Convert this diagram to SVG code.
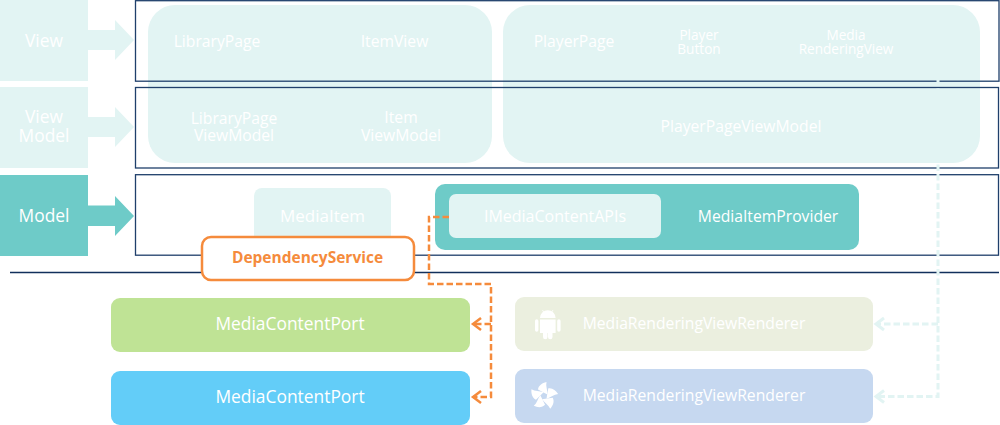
<svg xmlns="http://www.w3.org/2000/svg" xmlns:xlink="http://www.w3.org/1999/xlink" width="1000" height="425" viewBox="0 0 1000 425">
<style>
text{font-family:"Open Sans","Noto Sans","Liberation Sans",sans-serif;fill:#fff;text-anchor:middle}
.pale{fill:#e2f4f3}
.teal{fill:#6ecbc8}
.frame{fill:none;stroke:#1f3f6b;stroke-width:1.3}
.or{fill:none;stroke:#f58b3c;stroke-width:2.5}
.lt{fill:none;stroke:#e2f4f3;stroke-width:3}
.dash{stroke-dasharray:6.500 3}
.s17{font-size:17.400px}.s16{font-size:15.700px}.s13{font-size:13.600px}.s15{font-size:15.700px}
</style>
<defs>
<path id="blade" d="M0.500 -3L-6 -6.500C-5.500 -10.500 -2 -13 2.500 -14C1.500 -10 3.500 -6 3.500 -1.500Z" fill="#fff"/>
</defs>
<g id="layer-view"><rect class="pale" x="0" y="0" width="88" height="81"/><path class="pale" d="M88 30H115V20L134 40L115 60V50H88Z"/><text class="s17" x="44" y="46.500">View</text></g>
<g id="layer-viewmodel"><rect class="pale" x="0" y="87" width="88" height="81"/><path class="pale" d="M88 117H115V107L134 127L115 147V137H88Z"/><text class="s17" x="44" y="122.500">View</text><text class="s17" x="44" y="142">Model</text></g>
<g id="layer-model"><rect class="teal" x="0" y="175" width="88" height="81"/><path class="teal" d="M88 205.500H115V196L134 216L115 236V226H88Z"/><text class="s17" x="44" y="221.500">Model</text></g>
<g id="panel-library"><rect class="pale" x="148" y="5" width="344" height="158" rx="27"/>
<text class="s16" x="217" y="47">LibraryPage</text><text class="s16" x="394.500" y="47">ItemView</text>
<text class="s16" x="234" y="124">LibraryPage</text><text class="s16" x="234" y="141">ViewModel</text>
<text class="s16" x="401" y="123">Item</text><text class="s16" x="401" y="141">ViewModel</text></g>
<g id="panel-player"><rect class="pale" x="503" y="5" width="477" height="158" rx="27"/>
<text class="s16" x="574" y="47">PlayerPage</text>
<text class="s13" x="699" y="40">Player</text><text class="s13" x="699" y="54">Button</text>
<text class="s13" x="846" y="40">Media</text><text class="s13" x="846" y="54">RenderingView</text>
<text class="s16" x="741" y="132">PlayerPageViewModel</text></g>
<g id="frames"><rect class="frame" x="135.500" y="0.700" width="863.500" height="80.500"/><rect class="frame" x="135.500" y="87.500" width="863" height="80.500"/><rect class="frame" x="135.500" y="174.700" width="863" height="80.500"/></g>
<g id="mediaitem"><rect class="pale" x="254" y="188" width="137" height="60" rx="8"/><text x="322.500" y="221.500" font-size="17">MediaItem</text></g>
<g id="provider"><rect class="teal" x="435" y="184" width="424" height="66" rx="10"/><text class="s15" x="768" y="222">MediaItemProvider</text></g>
<g id="apis"><rect class="pale" x="449" y="194" width="212" height="44" rx="7"/><text x="555" y="222" font-size="16">IMediaContentAPIs</text></g>
<line id="divider" x1="10" y1="272.500" x2="999" y2="272.500" stroke="#12305c" stroke-width="1.500"/>
<g id="connectors">
<path class="or dash" d="M449 217H429V284H491V397H473"/>
<path class="or dash" d="M491 324H473"/>
<path class="or" d="M481 318L473 324L481 330M481 391L473 397L481 403"/>
<path class="lt dash" d="M938 60V396.500H876"/>
<path class="lt dash" d="M938 324H876"/>
<path class="lt" d="M884 318L876 324L884 330M884 390.500L876 396.500L884 402.500"/>
</g>
<g id="dependency"><rect x="202" y="237" width="212" height="43" rx="9" fill="#fff" stroke="#f58b3c" stroke-width="2.500"/><text x="307.500" y="263" font-size="15.500" font-weight="700" style="fill:#f58b3c">DependencyService</text></g>
<g id="port-android"><rect x="111" y="298" width="359" height="54" rx="9" fill="#bfe395"/><text class="s17" x="290" y="330">MediaContentPort</text></g>
<g id="port-ios"><rect x="111" y="371" width="359" height="54" rx="9" fill="#63cdf8"/><text class="s17" x="290" y="403">MediaContentPort</text></g>
<g id="renderer-android"><rect x="515" y="297" width="358" height="54" rx="9" fill="#ebefdf"/>
<path fill="#fff" d="M540 318A7.800 7.800 0 0 1 555.600 318ZM540 319.500H555.600V333H552.500V337A2.200 2.200 0 0 1 548 337V333H547.500V337A2.200 2.200 0 0 1 543 337V333H540ZM535 321A1.700 1.700 0 0 1 538.400 321V330A1.700 1.700 0 0 1 535 330ZM557.200 321A1.700 1.700 0 0 1 560.600 321V330A1.700 1.700 0 0 1 557.200 330Z"/>
<path stroke="#fff" stroke-width="0.800" d="M542.500 310L544 312.500M553 310L551.500 312.500"/>
<text class="s15" x="694" y="329">MediaRenderingViewRenderer</text></g>
<g id="renderer-xamarin"><rect x="515" y="369" width="358" height="54" rx="9" fill="#c6d8f0"/>
<g transform="translate(544 396)"><use xlink:href="#blade"/><use xlink:href="#blade" transform="rotate(72)"/><use xlink:href="#blade" transform="rotate(144)"/><use xlink:href="#blade" transform="rotate(216)"/><use xlink:href="#blade" transform="rotate(288)"/></g>
<text class="s15" x="694" y="401">MediaRenderingViewRenderer</text></g>
</svg>
